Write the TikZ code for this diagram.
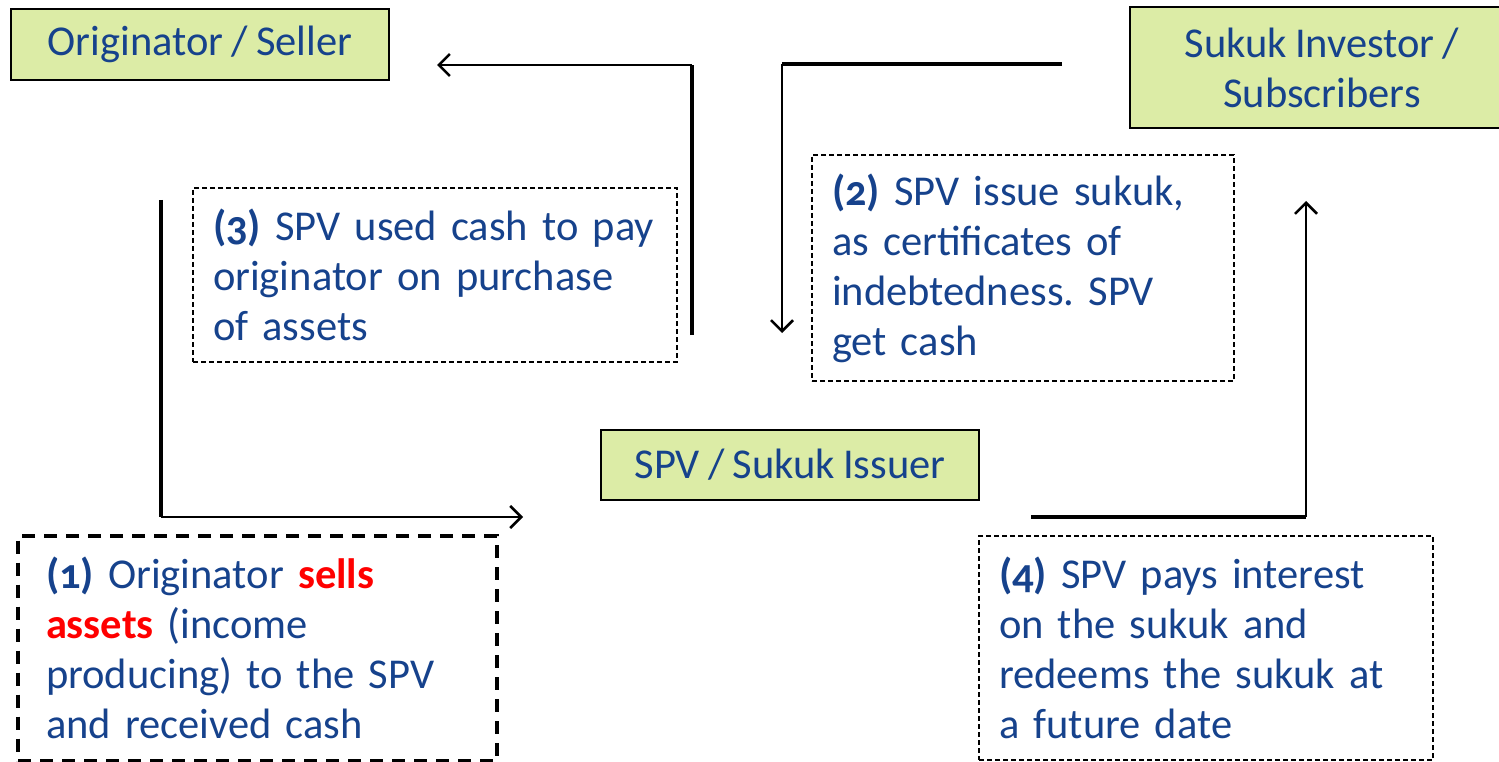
\documentclass[tikz,border=0pt]{standalone}
\usepackage{fontspec}
\setmainfont[WordSpace=0.85]{Carlito}
\usetikzlibrary{arrows.meta}
\definecolor{boxgreen}{RGB}{220,236,166}
\definecolor{txtblue}{RGB}{22,66,140}
\definecolor{hired}{RGB}{255,0,0}
\newcommand{\stepnum}[1]{{\bfseries\addfontfeatures{Numbers=OldStyle}(#1)}}
\frenchspacing
\begin{document}
\begin{tikzpicture}[x=1pt,y=-1pt,
  party/.style={draw=black,line width=2pt,fill=boxgreen,text=txtblue,
    font=\fontsize{42.5}{50}\selectfont,align=center,inner sep=0pt},
  notebox/.style={draw=black,line width=1.2pt,dash pattern=on 5pt off 3pt,
    text=txtblue,font=\fontsize{42.5}{50}\selectfont,align=left,
    inner xsep=20pt,inner ysep=0pt},
  thickbox/.style={draw=black,line width=4pt,dash pattern=on 13pt off 9pt,
    text=txtblue,font=\fontsize{42.5}{50}\selectfont,align=left,
    inner xsep=28pt,inner ysep=0pt},
  heavy/.style={line width=4pt},
  flow/.style={line width=2.5pt,-{Straight Barb[length=11pt,width=22pt,line width=2.5pt]}}
]
\useasboundingbox (0,0) rectangle (1499,762);
% parties
\node[party,minimum width=378pt,minimum height=71pt] (orig) at (200,44.5) {\raisebox{-3pt}{Originator / Seller}};
\node[party,minimum width=384pt,minimum height=121pt] (inv) at (1322,67.5) {Sukuk Investor /\\Subscribers};
\node[party,minimum width=378pt,minimum height=70pt] (spv) at (790,465) {\raisebox{-2pt}{SPV / Sukuk Issuer}};
% notes
\node[notebox,minimum width=484pt,minimum height=174pt,text width=444pt] (n3) at (435,275)
  {\stepnum{3} SPV used cash to pay\\originator on purchase\\of assets};
\node[notebox,minimum width=422pt,minimum height=226pt,text width=382pt] (n2) at (1023,268)
  {\stepnum{2} SPV issue sukuk,\\as certificates of\\indebtedness. SPV\\get cash};
\node[thickbox,minimum width=479pt,minimum height=225pt,text width=423pt] (n1) at (257.5,648)
  {\stepnum{1} Originator {\bfseries\color{hired}sells}\\{\bfseries\color{hired}assets} (income\\producing) to the SPV\\and received cash};
\node[notebox,minimum width=454pt,minimum height=224pt,text width=414pt] (n4) at (1206,648)
  {\stepnum{4} SPV pays interest\\on the sukuk and\\redeems the sukuk at\\a future date};
% connector coordinates
\coordinate (a3s) at (692,335);
\coordinate (a3c) at (692,65);
\coordinate (a3e) at (437,65);
\coordinate (a2s) at (1062,64);
\coordinate (a2c) at (782,64);
\coordinate (a2e) at (782,333);
\coordinate (a1s) at (161,200);
\coordinate (a1c) at (161,517);
\coordinate (a1e) at (523,517);
\coordinate (a4s) at (1031,517);
\coordinate (a4c) at (1306,517);
\coordinate (a4e) at (1306,201);
% connectors
\draw[heavy] (a3s) -- (a3c);
\draw[flow] (a3c) -- (a3e);
\draw[heavy] (a2s) -- (a2c);
\draw[flow] (a2c) -- (a2e);
\draw[heavy] (a1s) -- (a1c);
\draw[flow] (a1c) -- (a1e);
\draw[heavy] (a4s) -- (a4c);
\draw[flow] (a4c) -- (a4e);
\end{tikzpicture}
\end{document}
